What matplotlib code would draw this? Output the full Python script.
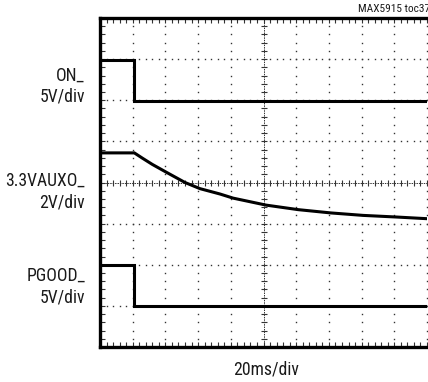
import matplotlib
matplotlib.use("Agg")
import matplotlib.pyplot as plt
from matplotlib.ticker import MultipleLocator, NullLocator
from matplotlib import font_manager

# ---- data (screen divisions: x 0..10, y 0..8) ----
on_t = [0.0, 1.05, 1.05, 10.0]
on_v = [6.98, 6.98, 5.99, 5.99]

aux_t = [0.0, 1.05, 1.3, 1.6, 2.05, 2.6, 3.06, 3.67, 4.07, 5.08, 6.06, 7.06, 8.05, 9.08, 10.0]
aux_v = [4.72, 4.72, 4.59, 4.44, 4.24, 4.0, 3.85, 3.72, 3.62, 3.45, 3.34, 3.26, 3.20, 3.16, 3.12]

pg_t = [0.0, 1.05, 1.05, 10.0]
pg_v = [2.0, 2.0, 1.0, 1.0]

labels = [("ON_", "5V/div"), ("3.3VAUXO_", "2V/div"), ("PGOOD_", "5V/div")]
xlabel = "20ms/div"
tag = "MAX5915 toc37"

names = {f.name for f in font_manager.fontManager.ttflist}
fam = [f for f in ["Liberation Sans Narrow", "Roboto Condensed", "PT Sans Narrow",
                   "Archivo Narrow", "Liberation Sans", "DejaVu Sans"] if f in names]
plt.rcParams['font.family'] = fam

W, H = 428, 382
fig = plt.figure(figsize=(W / 100, H / 100), dpi=100)
L, R, T, B = 100, 427, 18, 347
ax = fig.add_axes([L / W, (H - B) / H, (R - L) / W, (B - T) / H])
ax.set_xlim(0, 10)
ax.set_ylim(0, 8)

# grid dots
nx, ny = 10, 8
for i in range(1, nx + 1):
    if i == 5:
        continue
    ys = [k / 5 for k in range(0, ny * 5 + 1)]
    ax.plot([i] * len(ys), ys, ls='none', marker='s', ms=1.0, color='#333', mew=0)
for j in range(1, ny):
    if j == 4:
        continue
    xs = [k / 5 for k in range(0, nx * 5 + 1)]
    ax.plot(xs, [j] * len(xs), ls='none', marker='s', ms=1.0, color='#333', mew=0)

# center crosshair
xs = [k / 5 for k in range(0, nx * 5 + 1)]
ys = [k / 5 for k in range(0, ny * 5 + 1)]
ax.plot([0, 10], [4, 4], color='#333', lw=0.7, ls=(0, (1.5, 1.0)))
ax.plot(xs, [4] * len(xs), ls='none', marker='|', ms=5, mew=0.8, color='#333')
ax.plot([5, 5], [0, 8], color='#333', lw=0.7, ls=(0, (1.5, 1.0)))
ax.plot([5] * len(ys), ys, ls='none', marker='_', ms=5, mew=0.8, color='#333')

# traces
for t, v in [(on_t, on_v), (aux_t, aux_v), (pg_t, pg_v)]:
    ax.plot(t, v, color='black', lw=2.2, solid_joinstyle='miter')

# spines and ticks
for s in ['top', 'left', 'bottom']:
    ax.spines[s].set_linewidth(2.4)
ax.spines['right'].set_visible(False)
ax.xaxis.set_major_locator(NullLocator())
ax.yaxis.set_major_locator(NullLocator())
ax.xaxis.set_minor_locator(MultipleLocator(0.2))
ax.yaxis.set_minor_locator(MultipleLocator(0.2))
ax.tick_params(which='minor', direction='in', length=3.5, width=0.8, color='#333',
               top=True, bottom=True, left=True, right=False,
               labelbottom=False, labelleft=False)

# labels
fs = 12.7
pos = [(81, 101.7), (186, 207.3), (281, 302.7)]
for (a, b), (y1, y2) in zip(labels, pos):
    fig.text(85 / W, 1 - y1 / H, a, ha='right', va='baseline', fontsize=fs, color='#1a1a1a')
    fig.text(85 / W, 1 - y2 / H, b, ha='right', va='baseline', fontsize=fs, color='#1a1a1a')
fig.text(266 / W, 1 - 375 / H, xlabel, ha='center', va='baseline', fontsize=fs, color='#1a1a1a')
fig.text(358 / W, 1 - 11.7 / H, tag, ha='left', va='baseline', fontsize=8.2, color='#1a1a1a')

fig.savefig("out.png", dpi=100)
